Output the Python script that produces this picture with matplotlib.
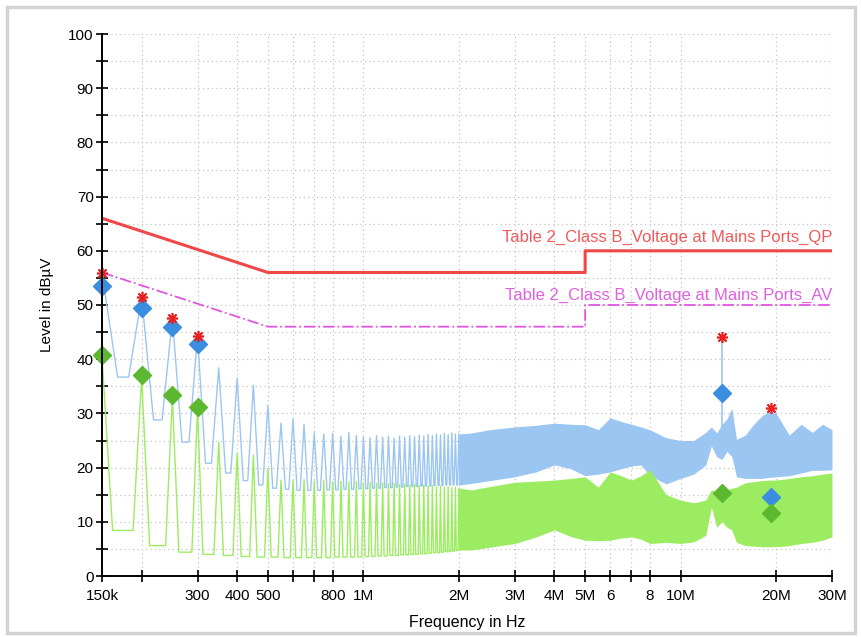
import matplotlib
matplotlib.use("Agg")
import matplotlib.pyplot as plt
from matplotlib.patches import Rectangle
from matplotlib.ticker import FixedLocator, FixedFormatter, MultipleLocator, NullLocator

plt.rcParams['font.family'] = ['Liberation Sans', 'DejaVu Sans']

# --- Data (frequency in MHz, level in dBuV) ---
# harmonics of the 50 kHz switcher, 150 kHz .. 2 MHz
harm_mhz = [0.15, 0.20, 0.25, 0.30, 0.35, 0.40, 0.45, 0.50, 0.55, 0.60,
            0.65, 0.70, 0.75, 0.80, 0.85, 0.90, 0.95, 1.00, 1.05, 1.10,
            1.15, 1.20, 1.25, 1.30, 1.35, 1.40, 1.45, 1.50, 1.55, 1.60,
            1.65, 1.70, 1.75, 1.80, 1.85, 1.90, 1.95, 2.00]
qp_peak = [55.9, 51.5, 47.6, 44.3, 38.4, 36.5, 35.2, 31.5, 28.2, 29.0,
           28.0, 26.4, 26.2, 26.3, 25.8, 26.5, 25.9, 25.7, 25.5, 25.9,
           25.6, 25.8, 25.4, 25.8, 25.6, 25.9, 25.7, 26.0, 25.8, 26.1,
           25.9, 26.2, 26.0, 26.3, 26.1, 26.4, 26.2, 26.3]
qp_floor = [36.7, 28.8, 24.7, 20.8, 19.0, 17.6, 16.8, 16.2, 16.0, 15.8,
            15.8, 15.8, 15.9, 15.9, 16.0, 16.0, 16.1, 16.1, 16.2, 16.2,
            16.3, 16.3, 16.4, 16.4, 16.5, 16.5, 16.5, 16.6, 16.6, 16.6,
            16.7, 16.7, 16.7, 16.8, 16.8, 16.8, 16.8, 16.8]
av_peak = [40.5, 36.7, 33.0, 30.8, 24.7, 22.7, 22.3, 19.9, 17.7, 17.7,
           17.8, 17.5, 17.6, 17.4, 17.5, 17.3, 17.4, 17.2, 17.3, 17.1,
           17.2, 17.0, 17.1, 16.9, 17.0, 16.8, 16.9, 16.7, 16.8, 16.6,
           16.7, 16.5, 16.6, 16.4, 16.5, 16.3, 16.4, 16.2]
av_floor = [8.4, 5.6, 4.4, 4.0, 3.8, 3.6, 3.5, 3.5, 3.4, 3.4,
            3.4, 3.4, 3.4, 3.5, 3.5, 3.5, 3.5, 3.6, 3.6, 3.7,
            3.7, 3.8, 3.8, 3.9, 3.9, 4.0, 4.0, 4.1, 4.1, 4.2,
            4.3, 4.3, 4.4, 4.5, 4.5, 4.6, 4.7, 4.8]

# dense part of the spectrum, drawn as envelope bands
band_mhz = [2.0, 2.2, 2.5, 3.0, 3.5, 4.0, 4.5, 5.0, 5.5, 6.0,
            6.5, 7.0, 7.5, 8.0, 9.0, 10, 11, 12, 12.5, 13,
            13.5, 14, 14.5, 15, 16, 17, 18, 19, 20, 22,
            24, 26, 28, 30]
qp_hi = [26.2, 26.4, 27.0, 27.5, 27.8, 28.2, 28.0, 27.9, 27.0, 29.2,
         28.5, 28.0, 27.5, 27.0, 25.5, 25.0, 25.0, 26.5, 27.5, 26.4,
         28.0, 29.0, 31.0, 25.2, 26.0, 28.0, 29.5, 30.5, 30.0, 26.0,
         28.0, 26.5, 28.0, 27.0]
qp_lo = [16.8, 17.1, 17.6, 18.3, 19.2, 20.5, 19.8, 18.5, 18.8, 19.2,
         19.8, 20.3, 20.5, 18.5, 17.0, 18.0, 18.8, 20.5, 24.0, 22.0,
         21.5, 23.0, 22.0, 18.3, 18.0, 18.0, 18.0, 18.2, 18.3, 18.5,
         19.0, 19.5, 19.5, 19.6]
av_hi = [16.2, 15.9, 16.5, 17.3, 17.5, 17.7, 18.0, 18.3, 16.4, 19.2,
         18.5, 17.7, 18.5, 19.6, 15.0, 14.0, 13.5, 14.0, 15.9, 15.5,
         15.5, 15.9, 16.2, 16.4, 17.2, 17.4, 17.6, 17.7, 17.7, 18.0,
         18.3, 18.5, 18.8, 19.0]
av_lo = [4.8, 4.8, 5.3, 6.0, 7.2, 8.5, 7.3, 6.6, 6.5, 6.6,
         7.0, 7.2, 6.8, 6.0, 6.2, 6.0, 6.3, 7.5, 12.7, 9.0,
         10.0, 9.0, 8.5, 6.2, 5.6, 5.5, 5.4, 5.4, 5.4, 5.6,
         6.0, 6.2, 6.6, 7.2]

# narrow spur at 13.5 MHz
spur_mhz = [13.5]
spur_base = [27.0]
spur_top = [44.1]

# limit lines (class B, mains ports)
lim_mhz = [0.15, 0.5, 5.0, 5.0, 30.0]
lim_qp = [66, 56, 56, 60, 60]
lim_av = [56, 46, 46, 50, 50]

# markers
peak_mhz = [0.15, 0.20, 0.25, 0.30, 13.5, 19.2]
peak_db = [55.9, 51.5, 47.6, 44.3, 44.1, 31.0]
qp_final = [53.5, 49.5, 46.0, 42.8, 33.8, 14.6]
av_final = [40.8, 37.1, 33.4, 31.2, 15.3, 11.6]

xtick_mhz = [0.15, 0.2, 0.3, 0.4, 0.5, 0.6, 0.7, 0.8, 1, 2, 3, 4, 5, 6, 7, 8, 10, 20, 30]
xtick_lbl = ['150k', '', '300', '400', '500', '', '', '800', '1M', '2M', '3M',
             '4M', '5M', '6', '', '8', '10M', '20M', '30M']

QP_W = 0.018  # half-width of a harmonic spike in MHz
AV_W = 0.012
BLUE = '#9cc6f2'
GREEN = '#9cec62'


def spike_trace(freqs, peaks, floors, w):
    xs, ys = [], []
    for i, f in enumerate(freqs):
        if i > 0:
            xs.append(f - w)
            ys.append(floors[i - 1])
        xs.append(f)
        ys.append(peaks[i])
        xs.append(f + w)
        ys.append(floors[i])
    return xs, ys


fig = plt.figure(figsize=(8.61, 6.37), dpi=100)
fig.patches.append(Rectangle((7 / 861, 4 / 637), 848 / 861, 626 / 637,
                             transform=fig.transFigure, fill=False,
                             ec='#d2d2d2', lw=2.5))
ax = fig.add_axes([102 / 861, 1 - 576 / 637, 730 / 861, 542 / 637])

# --- traces ---
qx, qy = spike_trace(harm_mhz, qp_peak, qp_floor, QP_W)
ax.plot(qx, qy, color=BLUE, lw=1.0, zorder=2)
ax.fill_between(band_mhz, qp_lo, qp_hi, color=BLUE, lw=0, zorder=2)
ax.vlines(spur_mhz, spur_base, spur_top, color=BLUE, lw=1.2, zorder=2)

gx, gy = spike_trace(harm_mhz, av_peak, av_floor, AV_W)
ax.plot(gx, gy, color=GREEN, lw=1.0, zorder=3)
ax.fill_between(band_mhz, av_lo, av_hi, color=GREEN, lw=0, zorder=3)

# --- limits ---
ax.plot(lim_mhz, lim_qp, color='#f04848', lw=2.2, zorder=4)
ax.plot(lim_mhz, lim_av, color='#e055e0', lw=1.3, ls='-.', zorder=4)
ax.text(30, 61.0, 'Table 2_Class B_Voltage at Mains Ports_QP', ha='right', va='bottom',
        color='#f05a5a', fontsize=12)
ax.text(30, 50.4, 'Table 2_Class B_Voltage at Mains Ports_AV', ha='right', va='bottom',
        color='#e060e0', fontsize=12)

# --- markers ---
ax.plot(peak_mhz, peak_db, ls='none', marker=(8, 2, 0), ms=8, mew=1.2,
        color='#e82020', zorder=6, clip_on=False)
ax.plot(peak_mhz, qp_final, ls='none', marker='D', ms=9, color='#3a8ee0',
        zorder=5, clip_on=False)
ax.plot(peak_mhz, av_final, ls='none', marker='D', ms=9, color='#5cb82e',
        zorder=5, clip_on=False)

# --- axes ---
ax.set_xscale('log')
ax.set_xlim(0.15, 30)
ax.set_ylim(0, 100)
ax.xaxis.set_major_locator(FixedLocator(xtick_mhz))
ax.xaxis.set_major_formatter(FixedFormatter(xtick_lbl))
ax.xaxis.set_minor_locator(NullLocator())
ax.yaxis.set_major_locator(MultipleLocator(10))
ax.yaxis.set_minor_locator(MultipleLocator(5))
ax.tick_params(which='both', direction='inout', length=8, width=1.2)
ax.tick_params(axis='x', labelsize=11, pad=5)
ax.tick_params(axis='y', labelsize=11, pad=2)
for s in ('top', 'right'):
    ax.spines[s].set_visible(False)
for s in ('left', 'bottom'):
    ax.spines[s].set_linewidth(1.4)
    ax.spines[s].set_zorder(7)
ax.grid(True, which='both', axis='y', ls=(0, (1, 2.5)), color='#c4c4c4', lw=0.9)
ax.grid(True, which='major', axis='x', ls=(0, (1, 2.5)), color='#c4c4c4', lw=0.9)
ax.set_axisbelow(True)

fig.text(47 / 861, 1 - 305 / 637, 'Level in dBµV', rotation=90, ha='center',
         va='center', fontsize=11)
fig.text(467 / 861, 1 - 622 / 637, 'Frequency in Hz', ha='center', va='center',
         fontsize=11.5)

fig.savefig('out.png', dpi=100, facecolor='white')
